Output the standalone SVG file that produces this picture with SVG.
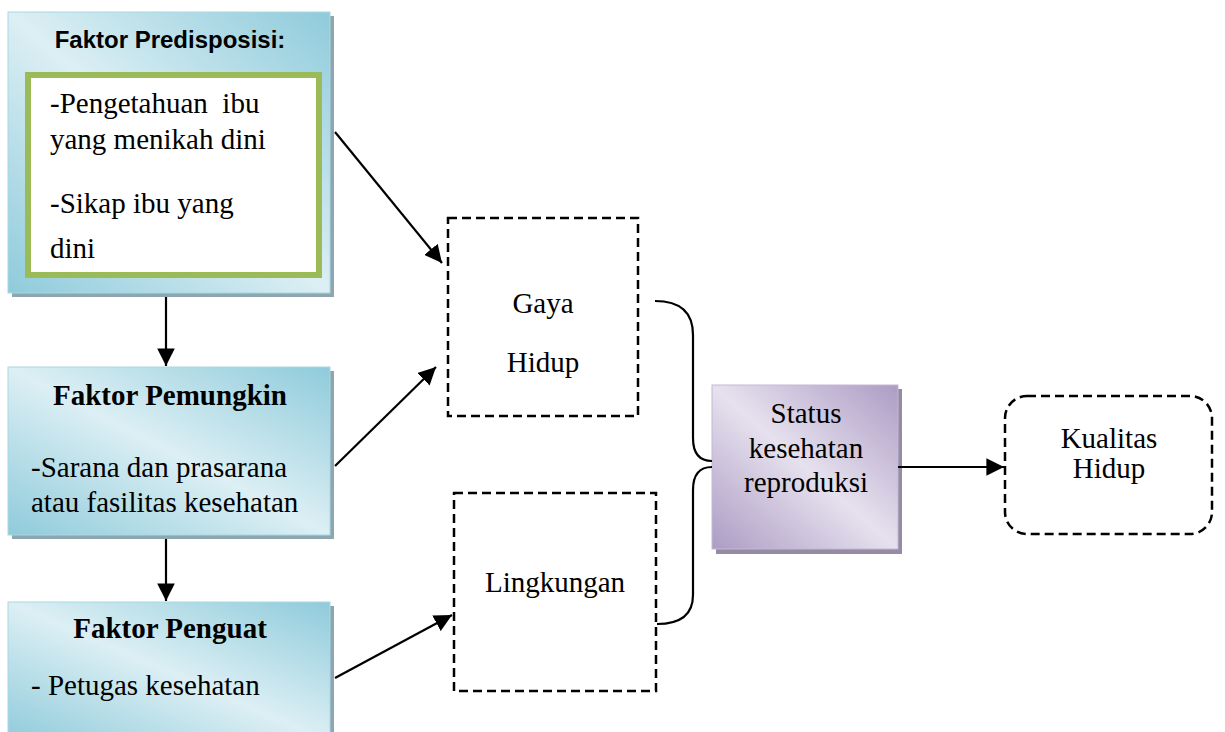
<svg xmlns="http://www.w3.org/2000/svg" width="1225" height="732" viewBox="0 0 1225 732">
<defs>
<linearGradient id="gBlue" x1="1" y1="0" x2="0" y2="1">
<stop offset="0" stop-color="#8fcbdb"/>
<stop offset="0.5" stop-color="#dceff4"/>
<stop offset="1" stop-color="#8fcbdb"/>
</linearGradient>
<linearGradient id="gPurple" x1="1" y1="0" x2="0" y2="1">
<stop offset="0" stop-color="#ac9cc4"/>
<stop offset="0.5" stop-color="#e6e1ee"/>
<stop offset="1" stop-color="#ac9cc4"/>
</linearGradient>
<marker id="ah" markerWidth="8" markerHeight="8" viewBox="0 0 10 10" refX="10" refY="5" orient="auto" markerUnits="strokeWidth">
<path d="M0,0 L10,5 L0,10 Z" fill="#000"/>
</marker>
</defs>
<style>
.serif{font-family:"Liberation Serif","Times New Roman",serif;fill:#000}
.body{font-size:29px}
.bold{font-weight:bold}
.sans{font-family:"Liberation Sans",Arial,sans-serif;font-weight:bold;fill:#000}
.dash{fill:none;stroke:#000;stroke-width:2.5;stroke-dasharray:9 5}
.conn{fill:none;stroke:#000;stroke-width:2.2}
.shB{fill:#8ea6af}
.shP{fill:#958ba3}
.boxB{fill:url(#gBlue);stroke:#a8d8e4;stroke-width:1}
.boxP{fill:url(#gPurple);stroke:#c4b8d6;stroke-width:1}
</style>
<rect width="1225" height="732" fill="#fff"/>

<g id="node-predisposisi">
<rect class="shB" x="12" y="16" width="322" height="281"/>
<rect class="boxB" x="8" y="12" width="322" height="281"/>
<text class="sans" x="170" y="48" font-size="24" text-anchor="middle">Faktor Predisposisi:</text>
<rect x="28" y="75" width="291" height="200" fill="#fff" stroke="#9bbb59" stroke-width="6"/>
<text class="serif body" x="50" y="113" xml:space="preserve">-Pengetahuan  ibu</text>
<text class="serif body" x="50" y="149">yang menikah dini</text>
<text class="serif body" x="50" y="213">-Sikap ibu yang</text>
<text class="serif body" x="50" y="258">dini</text>
</g>

<g id="node-pemungkin">
<rect class="shB" x="12" y="371" width="322" height="168"/>
<rect class="boxB" x="8" y="367" width="322" height="168"/>
<text class="serif body bold" x="170" y="405" text-anchor="middle">Faktor Pemungkin</text>
<text class="serif body" x="31" y="477">-Sarana dan prasarana</text>
<text class="serif body" x="31" y="512">atau fasilitas kesehatan</text>
</g>

<g id="node-penguat">
<rect class="shB" x="12" y="606" width="322" height="140"/>
<rect class="boxB" x="8" y="602" width="322" height="140"/>
<text class="serif body bold" x="170" y="638" text-anchor="middle">Faktor Penguat</text>
<text class="serif body" x="31" y="695" xml:space="preserve">- Petugas kesehatan</text>
</g>

<g id="node-gaya-hidup">
<rect class="dash" x="448" y="218" width="190" height="198"/>
<text class="serif body" x="543" y="313" text-anchor="middle">Gaya</text>
<text class="serif body" x="543" y="372" text-anchor="middle">Hidup</text>
</g>

<g id="node-lingkungan">
<rect class="dash" x="454" y="493" width="202" height="198"/>
<text class="serif body" x="555" y="592" text-anchor="middle">Lingkungan</text>
</g>

<g id="node-status">
<rect class="shP" x="716" y="389" width="186" height="165"/>
<rect class="boxP" x="712" y="385" width="186" height="164"/>
<text class="serif body" x="806" y="423" text-anchor="middle">Status</text>
<text class="serif body" x="806" y="458" text-anchor="middle">kesehatan</text>
<text class="serif body" x="806" y="492" text-anchor="middle">reproduksi</text>
</g>

<g id="node-kualitas">
<rect class="dash" x="1005" y="396" width="207" height="138" rx="22" ry="22"/>
<text class="serif body" x="1109" y="448" text-anchor="middle">Kualitas</text>
<text class="serif body" x="1109" y="478" text-anchor="middle">Hidup</text>
</g>

<g id="connectors">
<line class="conn" x1="166" y1="297" x2="166" y2="366" marker-end="url(#ah)"/>
<line class="conn" x1="166" y1="539" x2="166" y2="601" marker-end="url(#ah)"/>
<line class="conn" x1="335" y1="132" x2="442" y2="263" marker-end="url(#ah)"/>
<line class="conn" x1="335" y1="466" x2="436" y2="367" marker-end="url(#ah)"/>
<line class="conn" x1="335" y1="678" x2="452" y2="615" marker-end="url(#ah)"/>
<line class="conn" x1="898" y1="467" x2="1004" y2="467" marker-end="url(#ah)"/>
<path class="conn" d="M655,301 Q693,301 693,335 L693,438 Q693,461 712,461"/>
<path class="conn" d="M712,467 Q693,467 693,490 L693,595 Q693,624 657,624"/>
</g>
</svg>
